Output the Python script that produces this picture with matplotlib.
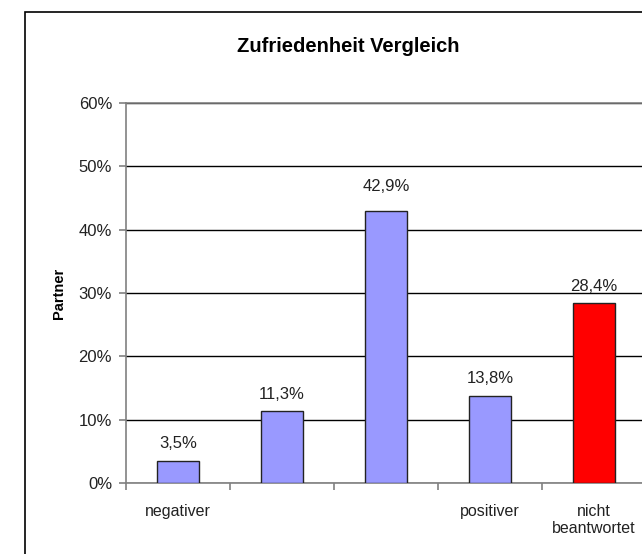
import matplotlib
matplotlib.use("Agg")
import matplotlib.pyplot as plt
from matplotlib.patches import Rectangle

categories = ["negativer", "", "", "positiver", "nicht\nbeantwortet"]
values = [3.5, 11.3, 42.9, 13.8, 28.4]
colors = ["#9999FF", "#9999FF", "#9999FF", "#9999FF", "#FF0000"]
yticks = [0, 10, 20, 30, 40, 50, 60]
title = "Zufriedenheit Vergleich"
ylabel = "Partner"

plt.rcParams['font.family'] = ['Liberation Sans', 'DejaVu Sans']

W, H = 642, 554
fig = plt.figure(figsize=(W / 100, H / 100), dpi=100)

# chart border (cropped on right / bottom)
fig.patches.append(Rectangle((25 / W, -0.1), 1.2, 1 - 12 / H + 0.1,
                             transform=fig.transFigure, fill=False,
                             edgecolor="black", linewidth=1.2))

ax = fig.add_axes([126 / W, 71 / H, 520 / W, 380 / H])
x = list(range(len(values)))
ax.bar(x, values, width=0.4, color=colors, edgecolor="#222222", linewidth=1.0, zorder=3)

ax.set_xlim(-0.5, len(values) - 0.5)
ax.set_ylim(0, 60)
ax.set_yticks(yticks)
ax.set_yticklabels([f"{t}%" for t in yticks], fontsize=12, color="#222222")
ax.yaxis.grid(True, color="black", linewidth=1.0, zorder=0)
ax.set_axisbelow(True)

ax.set_xticks(x)
ax.set_xticklabels(categories, fontsize=11.5, color="#222222", linespacing=1.2)
ax.tick_params(axis="x", which="major", length=0, pad=15)
ax.set_xticks([i - 0.5 for i in range(len(values) + 1)], minor=True)
ax.tick_params(axis="x", which="minor", length=5, color="#808080", width=1.2, direction="out")
ax.tick_params(axis="y", length=5, color="#808080", width=1.2, pad=5)

for s in ["left", "bottom", "top"]:
    ax.spines[s].set_color("#808080")
    ax.spines[s].set_linewidth(1.2)
ax.spines["right"].set_visible(False)

for xi, v in zip(x, values):
    off = 14.5 if v > 40 else 9
    ax.annotate(f"{v:.1f}%".replace(".", ","), (xi, v), xytext=(0, off),
                textcoords="offset points", ha="center", va="baseline",
                fontsize=12, color="#222222")

ax.set_ylabel(ylabel, fontsize=10.5, fontweight="bold")
ax.yaxis.set_label_coords(-60 / 520, 0.5)

fig.text(348 / W, 1 - 47 / H, title, ha="center", va="center",
         fontsize=14.5, fontweight="bold")

fig.savefig("out.png", dpi=100)
